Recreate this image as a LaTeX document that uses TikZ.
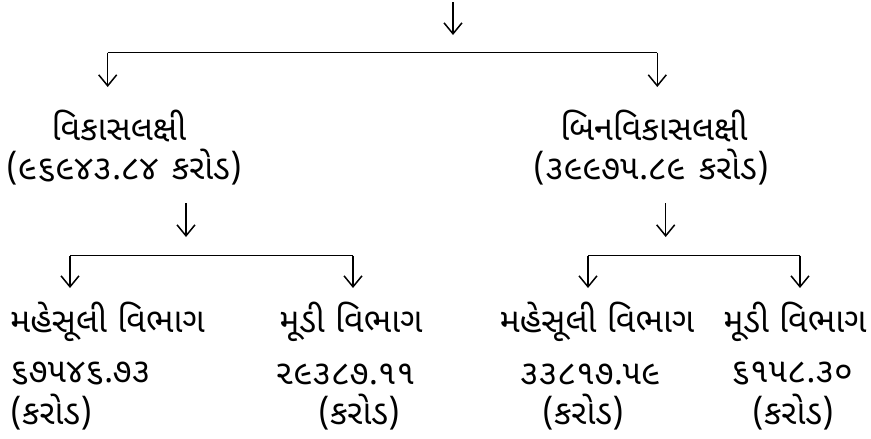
\documentclass[tikz,border=0pt]{standalone}
\usepackage{fontspec}
\setmainfont[Script=Gujarati]{Noto Sans Gujarati UI}
\usetikzlibrary{arrows.meta}
\begin{document}
\begin{tikzpicture}[x=1pt,y=-1pt,
  every node/.style={inner sep=0pt, font=\fontsize{34}{40}\selectfont},
  conn/.style={line width=1.5pt, -{Straight Barb[length=11pt,width=18pt,line width=1.5pt]}},
  bar/.style={line width=1.2pt}]
\useasboundingbox (0,0) rectangle (871,439);
% texts
\node (L1) at (119,126) {વિકાસલક્ષી};
\node (L2) at (124,167) {(૯૬૯૪૩.૮૪\hspace{0.4em}કરોડ)};
\node (R1) at (654,126) {બિનવિકાસલક્ષી};
\node (R2) at (651,167) {(૩૯૯૭૫.૮૯\hspace{0.4em}કરોડ)};
\node[anchor=west] (LL1) at (10,322) {મહેસૂલી વિભાગ};
\node[anchor=west] (LL2) at (10,374) {૬૭૫૪૬.૭૩};
\node[anchor=west] (LL3) at (10,412) {(કરોડ)};
\node (LR1) at (351,322) {મૂડી વિભાગ};
\node (LR2) at (345,374) {૨૯૩૮૭.૧૧};
\node (LR3) at (359,412) {(કરોડ)};
\node (RL1) at (597,322) {મહેસૂલી વિભાગ};
\node (RL2) at (590,374) {૩૩૮૧૭.૫૯};
\node (RL3) at (583,412) {(કરોડ)};
\node (RR1) at (795,322) {મૂડી વિભાગ};
\node (RR2) at (792,374) {૬૧૫૮.૩૦};
\node (RR3) at (793,412) {(કરોડ)};
% top
\coordinate (t0) at (453,2);
\coordinate (t1) at (453,35);
\draw[conn] (t0) -- (t1);
\coordinate (b1l) at (107.7,52.7);
\coordinate (b1r) at (657.3,52.7);
\coordinate (a1l) at (107.7,87);
\coordinate (a1r) at (657.3,87);
\draw[bar] (b1l) -- (b1r);
\draw[conn] (b1l) -- (a1l);
\draw[conn] (b1r) -- (a1r);
% left second level
\coordinate (l0) at (186,203);
\coordinate (l1) at (186,237);
\draw[conn] (l0) -- (l1);
\coordinate (b2l) at (70,255.7);
\coordinate (b2r) at (353,255.7);
\coordinate (a2l) at (70,288);
\coordinate (a2r) at (353,288);
\draw[bar] (b2l) -- (b2r);
\draw[conn] (b2l) -- (a2l);
\draw[conn] (b2r) -- (a2r);
% right second level
\coordinate (r0) at (665.7,203);
\coordinate (r1) at (665.7,237);
\draw[conn] (r0) -- (r1);
\coordinate (b3l) at (588,255.7);
\coordinate (b3r) at (800,255.7);
\coordinate (a3l) at (588,288);
\coordinate (a3r) at (800,288);
\draw[bar] (b3l) -- (b3r);
\draw[conn] (b3l) -- (a3l);
\draw[conn] (b3r) -- (a3r);
\end{tikzpicture}
\end{document}
